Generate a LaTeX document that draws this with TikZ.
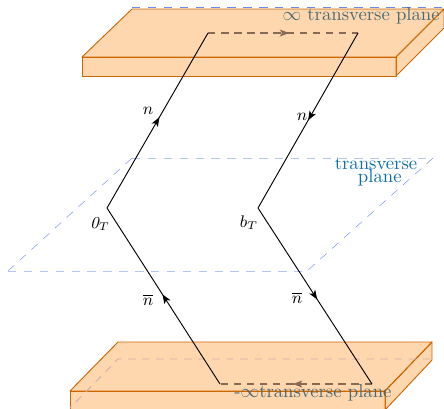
\documentclass[tikz,border=0pt]{standalone}
\usetikzlibrary{arrows.meta,decorations.markings}
\definecolor{boxedge}{RGB}{204,102,0}
\definecolor{boxfill}{RGB}{255,128,0}
\definecolor{planeblue}{RGB}{90,125,235}
\definecolor{wline}{RGB}{135,105,85}
\definecolor{hidden}{RGB}{205,175,170}
\definecolor{ghost}{RGB}{75,105,112}
\definecolor{tplane}{RGB}{15,110,165}
\tikzset{
  x=0.535pt,y=-0.535pt,
  boxface/.style={fill=boxfill,fill opacity=0.315,draw=boxedge,line width=0.5pt,line join=round},
  planethin/.style={draw=planeblue,line width=0.2pt,dash pattern=on 4.5pt off 4pt},
  planethick/.style={draw=planeblue!45,line width=0.4pt,dash pattern=on 4.5pt off 4pt},
  wilson/.style={draw=black,line width=0.5pt},
  wdash/.style={draw=wline,line width=0.6pt,dash pattern=on 4pt off 3pt},
  midtip/.style={postaction={decorate},decoration={markings,mark=at position #1 with {\arrow{Stealth[length=5pt,width=3.8pt,inset=1.3pt]}}}},
  lab/.style={inner sep=0pt,font=\normalsize},
  mlab/.style={inner sep=0pt,font=\small},
}
\begin{document}
\begin{tikzpicture}
\useasboundingbox (0,0) rectangle (444,408);
\clip (0,0) rectangle (444,408);
% points of the mid plane
\coordinate (pa) at (132,158);
\coordinate (pb) at (433,158);
\coordinate (pc) at (307,271);
\coordinate (pd) at (8,271);
% points of the path
\coordinate (b1) at (220,384);
\coordinate (o)  at (107,208);
\coordinate (t1) at (208,33);
\coordinate (t2) at (358,33);
\coordinate (bt) at (258,208);
\coordinate (b2) at (372,384);
% transverse plane
\draw[planethick] (pa) -- (pb);
\draw[planethick] (pd) -- (pc);
\draw[planethin] (pb) -- (pc);
\draw[planethin] (pd) -- (pa);
\node[lab,text=tplane,align=center] (tp) at (376,172) {transverse\\[-5pt]\hspace{4pt}plane};
% top slab
\coordinate (ta) at (82,57);
\coordinate (tb) at (132,9);
\coordinate (td) at (396,57);
\coordinate (te) at (396,76);
\coordinate (tf) at (82,76);
\coordinate (th) at (444,9);
\coordinate (tg) at (444,28);
\draw[planethick,draw=planeblue!90] (132,7.5) -- (444,7.5);
\path[boxface] (ta) -- (tb) -- (th) -- (td) -- cycle;
\path[boxface] (ta) -- (td) -- (te) -- (tf) -- cycle;
\path[boxface] (td) -- (th) -- (tg) -- (te) -- cycle;
\node[lab,text=ghost,anchor=base east] (ti) at (440,20) {$\infty$ transverse plane};
% bottom slab
\coordinate (ba) at (70,391);
\coordinate (bb) at (118,342);
\coordinate (bc) at (432,342);
\coordinate (bd) at (385,391);
\coordinate (be) at (385,410);
\coordinate (bf) at (70,410);
\coordinate (bg) at (432,360);
\path[boxface] (ba) -- (bb) -- (bc) -- (bd) -- cycle;
\path[boxface] (ba) -- (bd) -- (be) -- (bf) -- cycle;
\path[boxface] (bd) -- (bc) -- (bg) -- (be) -- cycle;
\draw[draw=hidden,line width=0.5pt,dash pattern=on 4pt off 3.5pt] (430,359) -- (118,359) -- (70,408);
\node[lab,text=ghost,anchor=base west] (bi) at (234,397) {-$\infty$transverse plane};
% gauge link
\draw[wdash,midtip=0.54] (t1) -- (t2);
\draw[wdash,midtip=0.52] (b2) -- (b1);
\draw[wilson,midtip=0.51] (b1) -- (o);
\draw[wilson,midtip=0.52] (o) -- (t1);
\draw[wilson,midtip=0.5] (t2) -- (bt);
\draw[wilson,midtip=0.52] (bt) -- (b2);
% labels
\node[mlab] (n1) at (148,111) {$n$};
\node[mlab] (n2) at (302,117) {$n$};
\node[mlab] (z)  at (100,224) {$\mathit{0}_T$};
\node[mlab] (bl) at (249,223) {$b_T$};
\node[mlab] (n3) at (148,300) {$\overline{n}$};
\node[mlab] (n4) at (297,298) {$\overline{n}$};
\end{tikzpicture}
\end{document}
